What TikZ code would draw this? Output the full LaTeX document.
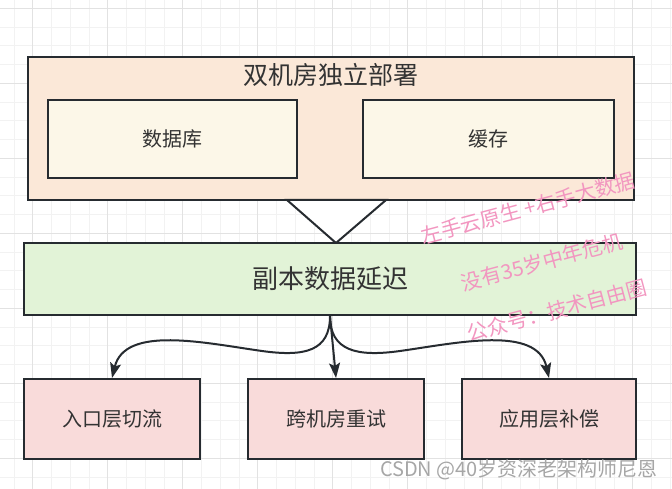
\documentclass[tikz,border=0pt]{standalone}
\usepackage{fontspec}
\setmainfont{Noto Sans CJK SC}
\usepackage{tikz}
\usetikzlibrary{positioning,arrows.meta,calc}
\usepackage{xcolor}
\definecolor{edgec}{RGB}{38,43,48}
\definecolor{txtc}{RGB}{51,51,51}
\definecolor{siteFill}{RGB}{251,232,216}
\definecolor{partFill}{RGB}{252,247,232}
\definecolor{lagFill}{RGB}{226,243,215}
\definecolor{fixFill}{RGB}{249,219,218}
\definecolor{wmarkc}{RGB}{242,150,192}
\definecolor{gridMinor}{RGB}{242,242,242}
\definecolor{gridMajor}{RGB}{226,226,226}

\begin{document}
\begin{tikzpicture}[x=1pt, y=-1pt,
  box/.style={draw=edgec, line width=2pt, inner sep=0pt, text=txtc,
    font=\fontsize{20}{23}\selectfont},
  link/.style={draw=edgec, line width=2pt,
    -{Stealth[length=15pt, width=11pt, inset=3pt]}},
  wmark/.style={text=wmarkc, rotate=15, inner sep=0pt, font=\fontsize{20.5}{23}\selectfont}]
  \useasboundingbox (0,0) rectangle (672,489);
  % Grid
  \foreach \k in {0,...,35}
    \draw[gridMinor, line width=1pt] ({14+18.75*\k},0) -- ({14+18.75*\k},489);
  \foreach \k in {0,...,25}
    \draw[gridMinor, line width=1pt] (0,{8.3+18.75*\k}) -- (672,{8.3+18.75*\k});
  \foreach \k in {0,...,8}
    \draw[gridMajor, line width=1pt] ({32.7+75*\k},0) -- ({32.7+75*\k},489);
  \foreach \k in {0,...,6}
    \draw[gridMajor, line width=1pt] (0,{8.3+75*\k}) -- (672,{8.3+75*\k});
  % Two sites, deployed apart
  \node[box, fill=siteFill, minimum width=606pt, minimum height=143pt] (site) at (331,128.5) {};
  \node[text=txtc, font=\fontsize{25}{28}\selectfont] (title) at (331,75) {双机房独立部署};
  \node[box, fill=partFill, minimum width=249pt, minimum height=78pt] (db) at (172.5,139) {数据库};
  \node[box, fill=partFill, minimum width=251pt, minimum height=78pt] (cache) at (488.5,139) {缓存};
  % Open triangle under the sites
  \draw[draw=edgec, fill=white, line width=2pt] (287,200) -- (336,243) -- (386,200) -- cycle;
  % Replica lag
  \node[box, fill=lagFill, minimum width=612pt, minimum height=72pt,
    font=\fontsize{26}{29}\selectfont] (lag) at (330,279) {副本数据延迟};
  % Remedies
  \node[box, fill=fixFill, minimum width=176pt, minimum height=80pt] (entry) at (112,419) {入口层切流};
  \node[box, fill=fixFill, minimum width=176pt, minimum height=80pt] (retry) at (336,419) {跨机房重试};
  \node[box, fill=fixFill, minimum width=174pt, minimum height=80pt] (comp) at (549,419) {应用层补偿};
  \draw[link] (lag.south) .. controls +(0,35) and (305,357) .. (262,351)
    .. controls (205,343) and (125,325) .. (entry.north);
  \draw[link] (lag.south) -- (retry.north);
  \draw[link] (lag.south) .. controls +(0,35) and (357,357) .. (400,351)
    .. controls (457,343) and (537,325) .. (comp.north);
  % Watermarks
  \node[wmark] (wm1) at (528,208) {左手云原生 +右手大数据};
  \node[wmark] (wm2) at (542,262) {没有35岁中年危机};
  \node[wmark] (wm3) at (557,310) {公众号：技术自由圈};
  \node[text=gray!70, font=\fontsize{20}{23}\selectfont] (csdn) at (519,470) {CSDN @40岁资深老架构师尼恩};
\end{tikzpicture}
\end{document}
